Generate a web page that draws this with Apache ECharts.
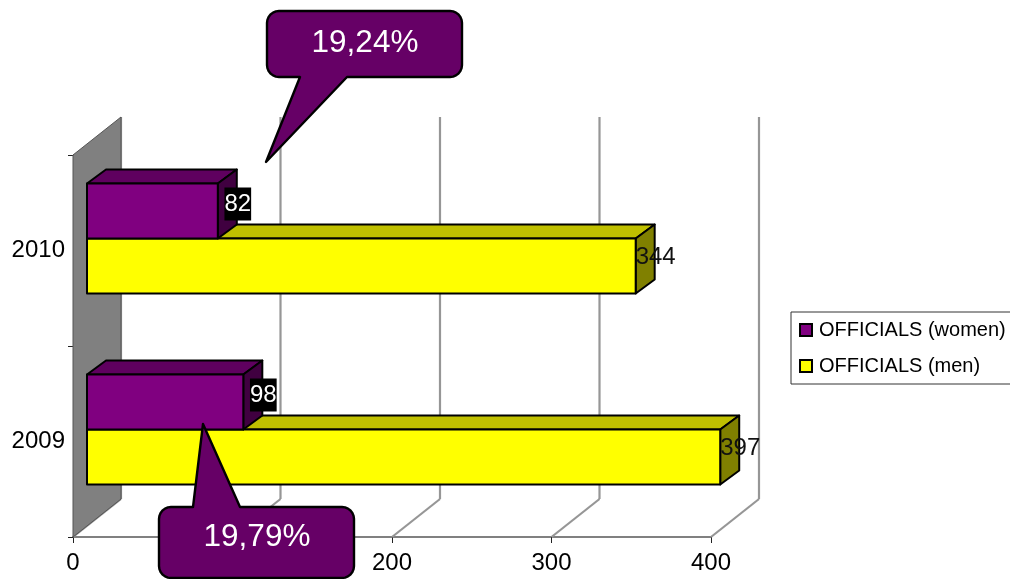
<!DOCTYPE html>
<html><head><meta charset="utf-8">
<style>html,body{margin:0;padding:0;background:#fff}#c{width:1010px;height:579px}</style>
<script src="https://cdn.jsdelivr.net/npm/echarts@6/dist/echarts.min.js"></script>
</head><body><div id="c"></div>
<script>
const years = ['2009', '2010'];
const women = [98, 82];
const men = [397, 344];
const ticks = [0, 100, 200, 300, 400];
const callouts = ['19,79%', '19,24%'];

const FONT = '"Liberation Sans", Arial, sans-serif';
const WALL = [48, -38];      // full floor depth of the 3-D box
const SHIFT = [14, -12];     // bars stand part of the way into the box
const DEPTH = [19, -14];     // depth of a bar
const THICK = 55;
const LINE = '#000';

function poly(points, fill, z2) {
  return {type: 'polygon', z2: z2, shape: {points: points},
    style: {fill: fill, stroke: LINE, lineWidth: 2, lineJoin: 'round'}};
}
function barRenderer(side, front, top, flank, lab) {
  return function (params, api) {
    const i = api.value(1);
    const end = api.coord([api.value(0), i]);
    const zero = api.coord([0, i]);
    const x0 = zero[0] + SHIFT[0], x1 = end[0] + SHIFT[0];
    const mid = end[1] + SHIFT[1];
    const y0 = side < 0 ? mid - THICK : mid;
    const y1 = side < 0 ? mid : mid + THICK;
    const dx = DEPTH[0], dy = DEPTH[1];
    return {type: 'group', children: [
      poly([[x0, y0], [x0 + dx, y0 + dy], [x1 + dx, y0 + dy], [x1, y0]], top, 1),
      poly([[x1, y0], [x1 + dx, y0 + dy], [x1 + dx, y1 + dy], [x1, y1]], flank, 1),
      poly([[x0, y0], [x1, y0], [x1, y1], [x0, y1]], front, 2),
      {type: 'text', z2: 5, style: Object.assign({
        x: x1 + dx + 1, y: (y0 + y1) / 2 - lab.up,
        text: String(api.value(0)), font: '24px ' + FONT,
        align: 'center', verticalAlign: 'middle'}, lab.style)}
    ]};
  };
}
// rounded box outline with a pointer; tail = [edge y, base x1, base x2, tip x, tip y]
function bubble(box, tail, txt, tx, ty) {
  const [l, t, r, b] = box, R = 12, pts = [];
  const arc = (cx, cy, a0) => {
    for (let k = 0; k <= 6; k++) {
      const a = a0 + k * Math.PI / 12;
      pts.push([cx + R * Math.cos(a), cy + R * Math.sin(a)]);
    }
  };
  const [ey, bx1, bx2, tipx, tipy] = tail;
  arc(l + R, t + R, Math.PI);
  if (ey === t) pts.push([bx1, t], [tipx, tipy], [bx2, t]);
  arc(r - R, t + R, -Math.PI / 2);
  arc(r - R, b - R, 0);
  if (ey === b) pts.push([bx2, b], [tipx, tipy], [bx1, b]);
  arc(l + R, b - R, Math.PI / 2);
  return [
    {type: 'polygon', z: 100, shape: {points: pts},
      style: {fill: '#660066', stroke: '#000', lineWidth: 2.4, lineJoin: 'round'}},
    {type: 'text', z: 101, x: tx, y: ty,
      style: {text: txt, fill: '#fff', font: '31.5px ' + FONT, align: 'center', verticalAlign: 'middle'}}
  ];
}

const chart = echarts.init(document.getElementById('c'), null, {renderer: 'canvas'});
chart.setOption({
  animation: false,
  backgroundColor: '#fff',
  grid: {left: 73, top: 155, width: 638, height: 382, containLabel: false},
  xAxis: {
    type: 'value', min: 0, max: 400, interval: 100,
    axisLine: {show: true, lineStyle: {color: '#808080', width: 2}},
    axisTick: {show: true, length: 6, lineStyle: {color: '#222', width: 1}},
    axisLabel: {color: '#000', fontFamily: FONT, fontSize: 24, margin: 14,
      hideOverlap: false, showMinLabel: true, showMaxLabel: true},
    splitLine: {show: false}
  },
  yAxis: {
    type: 'category', data: years,
    axisLine: {show: true, onZero: false, lineStyle: {color: '#555', width: 1}},
    axisTick: {show: true, length: 5, alignWithLabel: false, lineStyle: {color: '#222', width: 1}},
    axisLabel: {color: '#000', fontFamily: FONT, fontSize: 24, margin: 8},
    splitLine: {show: false}
  },
  legend: {
    left: 791, top: 312, orient: 'vertical', align: 'left',
    data: ['OFFICIALS (women)', 'OFFICIALS (men)'],
    selectedMode: false,
    padding: [8, 5, 8, 8],
    itemWidth: 12, itemHeight: 12, itemGap: 16, icon: 'rect',
    backgroundColor: '#fff', borderColor: '#333', borderWidth: 1,
    textStyle: {color: '#000', fontFamily: FONT, fontSize: 20, lineHeight: 20, padding: [0, 0, 0, 2]}
  },
  series: [
    {
      type: 'custom', name: 'wall', silent: true, z: 1, clip: false,
      data: ticks,
      renderItem: function (params, api) {
        const t = api.value(0);
        const base = api.coord([t, 0]);
        const g = params.coordSys;
        const floorY = g.y + g.height;
        const bx = base[0] + WALL[0], by = floorY + WALL[1], ty = g.y + WALL[1];
        const kids = [];
        if (t === ticks[0]) {
          kids.push({type: 'polygon', z2: 3,
            shape: {points: [[base[0], g.y], [bx, ty], [bx, by], [base[0], floorY]]},
            style: {fill: '#808080', stroke: '#555', lineWidth: 1}});
        }
        const st = {stroke: '#969696', lineWidth: 2.2};
        kids.push({type: 'line', z2: 1, shape: {x1: bx, y1: ty, x2: bx, y2: by}, style: st});
        kids.push({type: 'line', z2: 1, shape: {x1: base[0], y1: floorY, x2: bx, y2: by}, style: st});
        return {type: 'group', children: kids};
      }
    },
    {
      type: 'custom', name: 'OFFICIALS (men)', z: 3, clip: false,
      data: men.map((v, i) => [v, i]),
      itemStyle: {color: '#ffff00', borderColor: '#000', borderWidth: 1.5},
      renderItem: barRenderer(1, '#ffff00', '#c0c000', '#808000', {up: 9, style: {fill: '#111'}})
    },
    {
      type: 'custom', name: 'OFFICIALS (women)', z: 4, clip: false,
      data: women.map((v, i) => [v, i]),
      itemStyle: {color: '#800080', borderColor: '#000', borderWidth: 1.5},
      renderItem: barRenderer(-1, '#800080', '#5f005f', '#400040',
        {up: 7, style: {fill: '#fff', backgroundColor: '#000', padding: [5, 0, 4, 0]}})
    }
  ],
  graphic: bubble([159, 507, 354, 578], [507, 193, 240, 203, 424], callouts[0], 257, 537)
    .concat(bubble([267, 11, 462, 77], [77, 300, 347, 266, 162], callouts[1], 365, 43))
});
</script></body></html>
